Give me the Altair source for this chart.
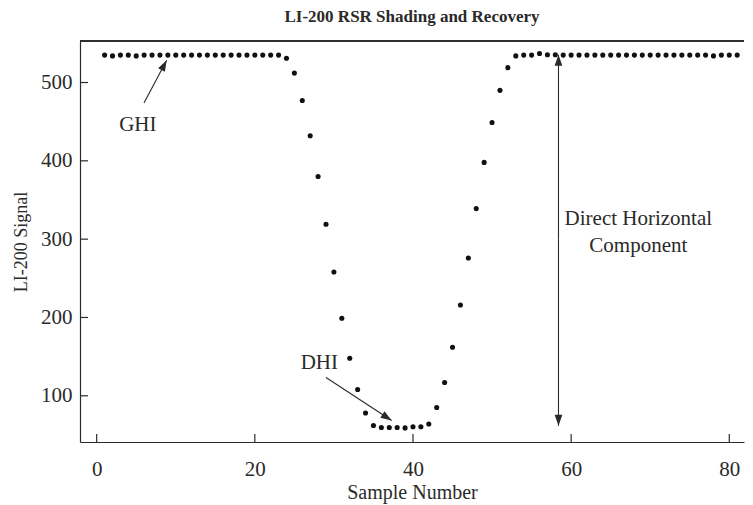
import altair as alt
import pandas as pd

# ---- data ----
samples = list(range(1, 82))
signal = [
    535, 534, 535, 535, 534, 535, 535, 535, 535, 535,
    535, 535, 535, 535, 535, 535, 535, 535, 535, 535,
    535, 535, 535, 531, 512, 477, 432, 380, 319, 258,
    199, 148, 108, 78, 62, 59.5, 59.5, 59.5, 59, 60.5,
    60.5, 64, 85, 117, 162, 216, 276, 339, 398, 449,
    490, 519, 534, 535, 535, 537, 535.5, 535.5, 535, 535,
    535, 535, 535, 535, 535, 535, 535, 535, 535, 535,
    535, 535, 535, 535, 535, 535, 535, 534, 535, 535,
    535,
]

x_ticks = [0, 20, 40, 60, 80]
y_ticks = [100, 200, 300, 400, 500]

label_text = ["GHI", "DHI", "Direct Horizontal", "Component"]
label_x = [5.2, 28.15, 68.5, 68.5]
label_y = [446, 142, 326, 291]

arrow_name = ["GHI", "DHI", "DirUp", "DirDown"]
arrow_x1 = [5.98, 29.0, 58.4, 58.4]
arrow_y1 = [473.7, 123.4, 300, 300]
arrow_x2 = [8.85, 37.3, 58.4, 58.4]
arrow_y2 = [528.3, 68.5, 535.4, 61.7]
arrow_angle = [28, 123, 0, 180]

W, H = 664, 401
X_DOM = [-2.11, 81.86]
Y_DOM = [41, 553]
FONT = "Liberation Serif"
INK = "#2a2a2a"

pts = pd.DataFrame({"sample": samples, "signal": signal})
labels = pd.DataFrame({"text": label_text, "x": label_x, "y": label_y})
arrows = pd.DataFrame({"name": arrow_name, "x1": arrow_x1, "y1": arrow_y1,
                       "x2": arrow_x2, "y2": arrow_y2, "angle": arrow_angle})
xt = pd.DataFrame({"v": x_ticks})
yt = pd.DataFrame({"v": y_ticks})

xs = alt.Scale(domain=X_DOM, nice=False, zero=False)
ys = alt.Scale(domain=Y_DOM, nice=False, zero=False)

base_x = alt.X("sample:Q", scale=xs, title="Sample Number",
               axis=alt.Axis(values=x_ticks, tickSize=0, labelPadding=16,
                             titlePadding=3, grid=False))
base_y = alt.Y("signal:Q", scale=ys, title="LI-200 Signal",
               axis=alt.Axis(values=y_ticks, tickSize=0, labelPadding=8,
                             titlePadding=10, titleFontSize=18, grid=False))

points = alt.Chart(pts).mark_circle(size=26, color="#111111", opacity=1).encode(
    x=base_x, y=base_y)

xtick = alt.Chart(xt).mark_rule(color=INK, strokeWidth=1.2).encode(
    x=alt.X("v:Q", scale=xs), y=alt.value(H), y2=alt.value(H - 8))
ytick = alt.Chart(yt).mark_rule(color=INK, strokeWidth=1.2).encode(
    y=alt.Y("v:Q", scale=ys), x=alt.value(0), x2=alt.value(8))
topline = alt.Chart(xt).mark_rule(color=INK, strokeWidth=1.2).encode(
    x=alt.value(0), x2=alt.value(W), y=alt.value(0))

arrow_lines = alt.Chart(arrows).mark_rule(color=INK, strokeWidth=1.1).encode(
    x=alt.X("x1:Q", scale=xs), y=alt.Y("y1:Q", scale=ys),
    x2="x2:Q", y2="y2:Q")
heads = alt.Chart(arrows).mark_point(
    shape="M0,0L0.7,2L-0.7,2Z", filled=True, color=INK, opacity=1, size=121
).encode(x=alt.X("x2:Q", scale=xs), y=alt.Y("y2:Q", scale=ys),
         angle=alt.Angle("angle:Q", scale=None))

texts = alt.Chart(labels).mark_text(font=FONT, fontSize=21, color=INK,
                                    align="center", baseline="middle").encode(
    x=alt.X("x:Q", scale=xs), y=alt.Y("y:Q", scale=ys), text="text:N")

chart = alt.layer(points, xtick, ytick, topline, arrow_lines, heads, texts).properties(
    width=W, height=H,
    title=alt.Title("LI-200 RSR Shading and Recovery", font=FONT, fontSize=17,
                    fontWeight="bold", color=INK, offset=14),
    autosize=alt.AutoSizeParams(type="none"),
    padding={"left": 72, "top": 33, "right": 1, "bottom": 63},
).configure_view(stroke=None).configure_axis(
    labelFont=FONT, titleFont=FONT, labelFontSize=21, titleFontSize=20,
    labelColor=INK, titleColor=INK, titleFontWeight="normal",
    domainColor=INK, domainWidth=1.2,
)

chart.save("out.html", embed_options={"renderer": "svg", "actions": False})
